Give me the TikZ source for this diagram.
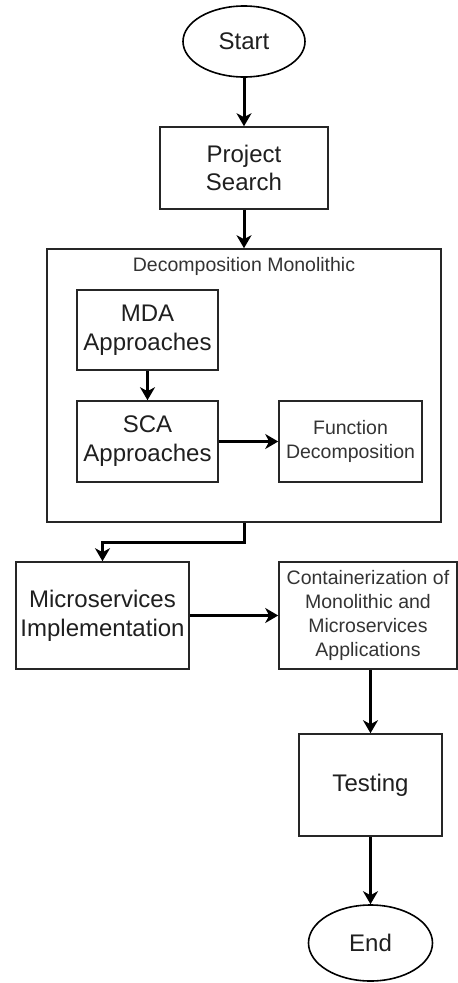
\documentclass[tikz,border=0pt]{standalone}
\usepackage{fontspec}
\setmainfont{Liberation Sans}
\usetikzlibrary{shapes.geometric,arrows.meta,calc}
\begin{document}
\begin{tikzpicture}[x=1pt,y=-1pt,
  big/.style={font=\fontsize{24}{28.8}\selectfont, text=black!88},
  small/.style={font=\fontsize{19.5}{24}\selectfont, text=black!80},
  box/.style={draw=black!85, line width=1.6pt, rectangle, align=center, inner sep=0pt},
  oval/.style={draw=black, line width=1.6pt, ellipse, inner sep=0pt, big},
  arr/.style={draw=black, line width=3pt, -{Stealth[length=13pt,width=15pt,inset=4pt]}},
  ln/.style={draw=black, line width=3pt}
]
\useasboundingbox (0,0) rectangle (458,983);
\node[oval, minimum width=122pt, minimum height=71pt] (start) at (244,41.5) {Start};
\node[box, big, minimum width=168pt, minimum height=82pt] (ps) at (244,168) {Project\\Search};
\node[box, minimum width=394pt, minimum height=273pt] (dm) at (244,385.5) {};
\node[small, anchor=center] (dmt) at (244,266) {Decomposition Monolithic};
\node[box, big, minimum width=141pt, minimum height=80pt] (mda) at (147.5,330) {MDA\\Approaches};
\node[box, big, minimum width=141pt, minimum height=81pt] (sca) at (147.5,441.5) {SCA\\Approaches};
\node[box, small, minimum width=143pt, minimum height=81pt] (fd) at (350.5,441.5) {Function\\Decomposition};
\node[box, big, minimum width=173pt, minimum height=107pt] (ms) at (102.5,615.5) {Microservices\\Implementation};
\node[box, small, minimum width=178pt, minimum height=107pt] (ct) at (368,615.5) {Containerization of\\Monolithic and\\Microservices\\Applications};
\node[box, big, minimum width=143pt, minimum height=102pt] (test) at (370.5,785) {Testing};
\node[oval, minimum width=124pt, minimum height=76pt] (end) at (370.5,943) {End};

\draw[arr] (start) -- (ps);
\draw[arr] (ps) -- (dm.north);
\draw[arr] (mda) -- (sca);
\draw[arr] (sca) -- (fd);
\draw[arr] (dm.south) -- ++(0,20) -| (ms.north);
\draw[arr] (ms) -- (ct);
\draw[arr] (test.north |- ct.south) -- (test.north);
\draw[arr] (test) -- (end);
\end{tikzpicture}
\end{document}
